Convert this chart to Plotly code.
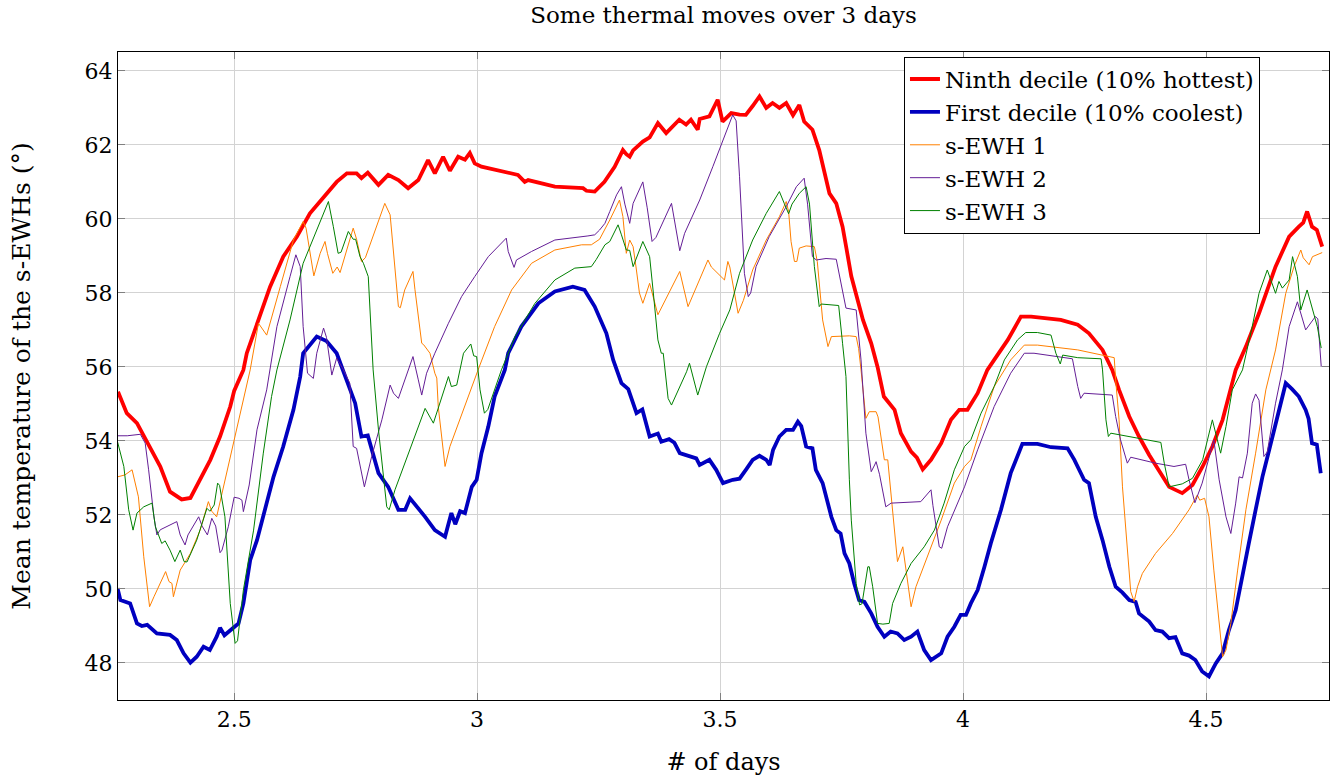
import plotly.graph_objects as go

# ---------------- data ----------------
ninth_x = [2.261,2.279,2.300,2.320,2.348,2.368,2.392,2.410,2.430,2.451,2.471,2.492,2.500,2.519,2.526,2.547,2.574,2.601,2.629,2.656,2.684,2.711,2.732,2.752,2.762,2.775,2.797,2.817,2.838,2.858,2.879,2.899,2.913,2.930,2.944,2.961,2.975,2.985,2.995,3.009,3.084,3.098,3.105,3.160,3.218,3.225,3.242,3.262,3.283,3.300,3.307,3.314,3.321,3.341,3.355,3.372,3.389,3.416,3.430,3.440,3.454,3.458,3.478,3.495,3.505,3.523,3.540,3.553,3.567,3.581,3.595,3.608,3.622,3.636,3.650,3.663,3.673,3.690,3.704,3.725,3.739,3.752,3.760,3.770,3.794,3.811,3.824,3.837,3.859,3.872,3.893,3.905,3.917,3.934,3.955,3.975,3.992,4.009,4.030,4.050,4.064,4.092,4.119,4.140,4.201,4.236,4.259,4.287,4.307,4.321,4.342,4.362,4.383,4.403,4.424,4.451,4.472,4.493,4.513,4.534,4.547,4.561,4.582,4.609,4.643,4.671,4.691,4.700,4.708,4.718,4.728,4.739]
ninth_y = [55.33,54.75,54.48,53.98,53.31,52.63,52.42,52.46,52.95,53.49,54.12,54.93,55.35,55.92,56.37,57.18,58.17,58.98,59.52,60.15,60.60,61.00,61.23,61.23,61.10,61.25,60.92,61.19,61.05,60.83,61.05,61.59,61.23,61.68,61.30,61.68,61.60,61.78,61.50,61.41,61.19,61.00,61.05,60.87,60.83,60.76,60.74,61.00,61.41,61.86,61.75,61.68,61.85,62.09,62.20,62.59,62.32,62.68,62.55,62.68,62.41,62.70,62.77,63.22,62.63,62.86,62.82,62.81,63.05,63.31,63.00,63.13,63.00,63.13,62.80,63.08,62.63,62.41,61.86,60.69,60.42,59.79,59.20,58.45,57.27,56.64,56.00,55.20,54.84,54.21,53.71,53.55,53.23,53.49,53.94,54.57,54.84,54.84,55.29,55.92,56.19,56.73,57.36,57.36,57.27,57.14,56.91,56.46,55.92,55.38,54.66,54.12,53.62,53.22,52.76,52.59,52.81,53.31,53.85,54.57,55.20,55.92,56.55,57.45,58.71,59.52,59.79,59.90,60.20,59.79,59.70,59.25]

first_x = [2.260,2.266,2.286,2.300,2.310,2.321,2.341,2.368,2.382,2.396,2.410,2.423,2.437,2.450,2.464,2.471,2.480,2.499,2.509,2.519,2.533,2.547,2.567,2.581,2.601,2.622,2.636,2.642,2.670,2.690,2.711,2.732,2.749,2.762,2.775,2.797,2.817,2.838,2.852,2.862,2.875,2.893,2.913,2.934,2.947,2.955,2.965,2.975,2.989,2.999,3.009,3.023,3.036,3.057,3.064,3.091,3.126,3.160,3.197,3.221,3.242,3.256,3.266,3.280,3.297,3.311,3.328,3.340,3.355,3.372,3.379,3.395,3.406,3.417,3.430,3.451,3.458,3.478,3.492,3.506,3.526,3.540,3.553,3.567,3.581,3.595,3.602,3.609,3.622,3.636,3.650,3.660,3.667,3.677,3.690,3.697,3.711,3.718,3.729,3.739,3.748,3.756,3.766,3.776,3.786,3.797,3.811,3.824,3.838,3.851,3.865,3.879,3.893,3.906,3.920,3.934,3.955,3.968,3.982,3.995,4.006,4.016,4.030,4.044,4.057,4.078,4.098,4.122,4.153,4.181,4.215,4.229,4.249,4.259,4.273,4.287,4.301,4.314,4.328,4.342,4.355,4.362,4.383,4.396,4.410,4.424,4.437,4.451,4.465,4.478,4.492,4.506,4.520,4.534,4.547,4.561,4.575,4.588,4.602,4.616,4.630,4.643,4.654,4.664,4.677,4.691,4.705,4.711,4.718,4.728,4.736]
first_y = [50.02,49.70,49.61,49.07,49.00,49.03,48.80,48.76,48.62,48.26,48.01,48.17,48.44,48.35,48.71,48.95,48.75,48.98,49.07,49.61,50.78,51.32,52.31,53.03,53.85,54.84,55.74,56.37,56.82,56.70,56.37,55.65,55.02,54.12,54.15,53.13,52.76,52.14,52.14,52.45,52.25,51.95,51.59,51.41,52.05,51.75,52.10,52.05,52.76,52.95,53.67,54.39,55.20,55.92,56.37,57.09,57.72,58.04,58.17,58.08,57.63,57.18,56.91,56.19,55.56,55.40,54.75,54.85,54.12,54.20,53.98,54.05,53.95,53.67,53.62,53.53,53.35,53.49,53.22,52.86,52.95,52.98,53.22,53.49,53.60,53.49,53.35,53.76,54.12,54.30,54.30,54.52,54.40,53.85,53.80,53.22,52.86,52.49,51.95,51.59,51.50,50.96,50.69,50.15,49.70,49.65,49.34,48.98,48.71,48.85,48.80,48.62,48.71,48.85,48.35,48.08,48.26,48.71,48.98,49.30,49.30,49.61,49.97,50.60,51.23,52.14,53.13,53.92,53.92,53.83,53.80,53.49,52.95,52.86,51.95,51.32,50.60,50.06,49.90,49.70,49.65,49.34,49.12,48.89,48.85,48.67,48.70,48.26,48.20,48.08,47.77,47.64,47.99,48.26,48.89,49.43,50.42,51.23,52.14,53.03,53.76,54.48,55.11,55.56,55.40,55.20,54.84,54.60,53.94,53.90,53.13]

ewh1_x = [2.260,2.275,2.290,2.297,2.303,2.314,2.326,2.335,2.359,2.366,2.372,2.375,2.382,2.389,2.410,2.430,2.447,2.454,2.464,2.481,2.499,2.516,2.533,2.550,2.567,2.595,2.622,2.642,2.648,2.664,2.677,2.687,2.692,2.703,2.712,2.718,2.738,2.745,2.752,2.762,2.770,2.810,2.821,2.825,2.838,2.842,2.851,2.868,2.872,2.886,2.890,2.903,2.913,2.917,2.920,2.934,2.944,3.002,3.036,3.071,3.112,3.160,3.215,3.235,3.252,3.273,3.293,3.300,3.307,3.314,3.321,3.327,3.334,3.341,3.348,3.355,3.372,3.417,3.434,3.475,3.482,3.509,3.516,3.520,3.537,3.548,3.567,3.595,3.622,3.636,3.641,3.646,3.653,3.658,3.663,3.677,3.694,3.700,3.711,3.722,3.729,3.766,3.780,3.785,3.790,3.800,3.807,3.821,3.825,3.838,3.845,3.852,3.865,3.876,3.883,3.893,3.903,3.927,3.955,3.982,4.003,4.016,4.037,4.064,4.085,4.098,4.126,4.153,4.236,4.270,4.311,4.314,4.321,4.328,4.338,4.345,4.352,4.359,4.369,4.396,4.431,4.465,4.482,4.487,4.497,4.506,4.516,4.530,4.534,4.541,4.551,4.565,4.582,4.602,4.623,4.643,4.664,4.681,4.695,4.700,4.712,4.719,4.739]
ewh1_y = [53.03,53.08,53.22,52.86,52.49,50.87,49.52,49.79,50.47,50.20,50.15,49.79,50.15,50.51,50.96,51.59,52.36,52.10,51.95,52.95,53.94,54.93,55.92,57.18,56.86,58.17,59.43,59.93,59.75,58.46,59.07,59.39,59.07,58.53,58.70,58.55,59.49,59.75,59.45,58.85,58.95,60.42,60.11,59.50,57.63,57.60,58.08,58.58,58.10,56.64,56.60,56.37,55.83,55.70,54.93,53.31,53.85,55.92,57.09,58.08,58.80,59.16,59.30,59.30,59.45,59.97,60.51,60.06,59.07,59.43,59.25,58.70,58.00,57.72,58.00,58.26,57.41,58.58,57.63,58.89,58.70,58.35,58.85,58.70,57.45,57.80,58.62,59.43,60.06,60.47,60.20,59.39,58.85,58.85,59.21,59.27,59.25,58.85,57.27,56.55,56.82,56.84,56.82,56.50,55.92,54.61,54.79,54.79,54.65,53.49,53.49,52.49,50.74,51.14,50.51,49.52,50.06,50.87,51.86,52.86,53.31,53.49,54.39,55.47,55.92,56.19,56.59,56.59,56.46,56.37,56.25,55.65,54.57,52.76,50.96,49.93,49.66,50.06,50.42,50.96,51.50,52.14,52.54,52.40,52.45,51.95,50.51,48.53,48.17,48.35,49.07,50.51,52.14,53.67,55.38,56.46,57.99,58.71,59.16,58.95,58.76,58.98,59.09]

ewh2_x = [2.260,2.280,2.307,2.317,2.324,2.335,2.341,2.348,2.382,2.389,2.399,2.405,2.427,2.434,2.445,2.454,2.462,2.471,2.475,2.488,2.500,2.510,2.516,2.519,2.531,2.547,2.567,2.588,2.615,2.627,2.636,2.642,2.651,2.663,2.670,2.684,2.690,2.701,2.711,2.725,2.738,2.745,2.752,2.759,2.768,2.783,2.804,2.821,2.828,2.838,2.858,2.868,2.879,2.886,2.896,2.913,2.941,2.968,2.995,3.023,3.060,3.064,3.076,3.081,3.112,3.160,3.228,3.242,3.252,3.263,3.273,3.287,3.297,3.304,3.314,3.321,3.341,3.350,3.360,3.368,3.400,3.407,3.417,3.427,3.458,3.485,3.512,3.526,3.533,3.540,3.550,3.558,3.563,3.574,3.601,3.636,3.657,3.673,3.680,3.690,3.698,3.718,3.739,3.748,3.759,3.780,3.790,3.800,3.811,3.818,3.821,3.828,3.841,3.852,3.913,3.934,3.938,3.951,3.956,3.968,4.003,4.030,4.064,4.098,4.126,4.146,4.225,4.236,4.242,4.249,4.270,4.307,4.314,4.324,4.338,4.345,4.396,4.434,4.458,4.465,4.477,4.492,4.516,4.527,4.541,4.551,4.561,4.568,4.575,4.585,4.595,4.602,4.609,4.619,4.626,4.643,4.657,4.671,4.688,4.705,4.725,4.730,4.737]
ewh2_y = [54.14,54.14,54.18,53.94,53.22,51.95,51.46,51.60,51.82,51.46,51.19,51.46,51.95,51.70,51.46,51.91,51.70,50.98,51.05,51.68,52.48,52.45,52.40,52.09,52.81,54.30,55.38,57.09,58.44,59.03,58.71,57.09,55.83,55.69,56.37,57.05,56.80,55.78,56.24,55.92,55.56,53.85,53.80,53.31,52.76,53.58,54.57,55.51,55.29,55.15,55.92,56.28,55.65,55.24,55.83,56.37,57.18,57.90,58.44,58.98,59.48,59.12,58.69,58.89,59.12,59.43,59.54,59.57,59.70,59.88,60.20,60.65,60.87,60.40,59.88,60.42,61.00,60.30,59.39,59.50,60.42,59.90,59.14,59.61,60.51,61.41,62.32,62.81,62.65,61.14,58.53,57.90,58.00,58.71,59.52,60.33,60.87,61.10,60.40,58.98,58.89,58.93,58.91,58.30,57.59,57.54,56.19,54.21,53.17,53.35,53.44,53.10,52.22,52.32,52.36,52.68,52.25,51.14,51.10,51.68,52.76,53.76,54.93,55.83,56.37,56.37,56.22,55.47,55.15,55.29,55.27,55.24,54.66,54.03,53.40,53.56,53.40,53.31,53.37,52.95,52.33,52.86,54.03,52.95,51.95,51.50,52.32,53.03,53.00,53.67,55.02,55.27,55.10,53.58,53.70,55.02,55.92,57.09,57.76,57.00,57.36,57.30,56.01]

ewh3_x = [2.260,2.273,2.283,2.292,2.300,2.314,2.331,2.338,2.351,2.358,2.368,2.378,2.389,2.397,2.403,2.423,2.444,2.450,2.459,2.466,2.470,2.481,2.492,2.502,2.507,2.519,2.540,2.560,2.577,2.588,2.615,2.642,2.670,2.694,2.704,2.714,2.720,2.735,2.745,2.750,2.759,2.766,2.776,2.786,2.797,2.814,2.819,2.831,2.893,2.910,2.941,2.947,2.958,2.972,2.987,2.993,2.999,3.006,3.015,3.022,3.050,3.078,3.119,3.160,3.201,3.235,3.245,3.263,3.273,3.290,3.297,3.307,3.314,3.321,3.341,3.355,3.362,3.372,3.379,3.383,3.393,3.400,3.431,3.437,3.454,3.472,3.499,3.520,3.540,3.567,3.595,3.622,3.632,3.641,3.648,3.663,3.677,3.684,3.694,3.704,3.708,3.725,3.744,3.752,3.759,3.766,3.770,3.780,3.787,3.792,3.804,3.807,3.814,3.824,3.835,3.848,3.855,3.872,3.893,3.920,3.941,3.961,3.982,4.003,4.016,4.037,4.064,4.085,4.112,4.129,4.153,4.181,4.191,4.200,4.205,4.236,4.270,4.284,4.287,4.294,4.299,4.304,4.407,4.414,4.424,4.451,4.472,4.493,4.513,4.520,4.530,4.541,4.554,4.568,4.575,4.595,4.609,4.626,4.643,4.650,4.657,4.671,4.678,4.688,4.695,4.708,4.718,4.729,4.737]
ewh3_y = [53.98,53.31,52.14,51.59,52.05,52.22,52.32,51.68,51.23,51.30,51.05,50.74,51.05,50.74,50.73,51.32,52.18,52.10,52.27,52.86,52.80,51.95,49.61,48.53,48.60,49.97,51.59,53.67,55.20,55.92,57.27,58.80,59.70,60.47,59.80,59.07,59.10,59.66,59.45,59.45,58.98,58.80,58.44,55.92,54.30,52.22,52.14,52.68,54.88,54.48,55.74,55.47,55.51,56.37,56.62,56.30,56.28,55.38,54.75,54.85,55.92,56.82,57.72,58.35,58.67,58.71,58.90,59.30,59.39,59.84,59.57,59.16,59.15,58.71,59.39,58.98,58.08,56.73,56.37,56.37,55.15,54.97,55.87,56.10,55.24,56.01,56.91,57.54,58.53,59.43,60.15,60.74,60.42,60.14,60.40,60.69,60.87,60.40,58.71,57.63,57.70,57.68,57.66,56.64,55.74,52.95,51.86,50.15,49.57,49.60,50.60,50.60,50.06,49.07,49.05,49.07,49.61,50.15,50.69,51.14,51.59,52.32,53.22,53.85,54.03,54.75,55.47,56.19,56.73,56.93,56.93,56.86,56.37,56.08,56.32,56.25,56.23,56.22,55.92,54.57,54.12,54.21,53.96,53.40,52.76,52.84,52.99,53.49,54.57,54.21,53.67,54.39,55.38,55.74,55.92,57.09,57.99,58.62,57.99,58.31,58.13,58.35,58.98,58.44,57.54,58.08,57.63,57.09,56.51]

series_names = ["Ninth decile (10% hottest)", "First decile (10% coolest)", "s-EWH 1", "s-EWH 2", "s-EWH 3"]
x_ticks = [2.5, 3, 3.5, 4, 4.5]
x_ticklabels = ["2.5", "3", "3.5", "4", "4.5"]
y_ticks = [48, 50, 52, 54, 56, 58, 60, 62, 64]
y_ticklabels = ["48", "50", "52", "54", "56", "58", "60", "62", "64"]

# ---------------- figure ----------------
FONT = "DejaVu Serif"
TXT = 23
styles = [
    dict(color="#ff0000", width=3.8),
    dict(color="#0000bf", width=3.8),
    dict(color="#ff8000", width=1.0),
    dict(color="#641e96", width=1.0),
    dict(color="#008000", width=1.0),
]
xs = [ninth_x, first_x, ewh1_x, ewh2_x, ewh3_x]
ys = [ninth_y, first_y, ewh1_y, ewh2_y, ewh3_y]

fig = go.Figure()
for name, x, y, st in zip(series_names, xs, ys, styles):
    fig.add_trace(go.Scatter(x=x, y=y, mode="lines", name=name, line=st))

axis_common = dict(
    showline=True, linecolor="black", linewidth=1, mirror="allticks",
    ticks="inside", ticklen=7, tickcolor="#808080", tickwidth=1,
    showgrid=True, gridcolor="#d3d3d3", gridwidth=1, zeroline=False,
    automargin=False,
    tickfont=dict(family=FONT, size=22, color="black"),
)

fig.update_layout(
    width=1341, height=777,
    margin=dict(l=118, r=12, t=52, b=77),
    paper_bgcolor="white", plot_bgcolor="white",
    font=dict(family=FONT, size=TXT, color="black"),
    title=dict(text="Some thermal moves over 3 days", x=0.5, xref="paper",
               y=1 - 15 / 777, yref="container", yanchor="middle",
               font=dict(family=FONT, size=TXT, color="black")),
    xaxis=dict(range=[2.261, 4.753], tickvals=x_ticks, ticktext=x_ticklabels,
               title=dict(text="# of days", standoff=21,
                          font=dict(family=FONT, size=24)),
               **axis_common),
    yaxis=dict(range=[47.0, 64.51], tickvals=y_ticks, ticktext=y_ticklabels,
               title=dict(text="Mean temperature of the s-EWHs (°)", standoff=46,
                          font=dict(family=FONT, size=25)),
               **axis_common),
    legend=dict(x=0.943, y=0.993, xanchor="right", yanchor="top",
                bordercolor="black", borderwidth=1, bgcolor="white",
                font=dict(family=FONT, size=TXT), tracegroupgap=0),
    showlegend=True,
)

fig.write_html("out.html", config={"displayModeBar": False},
               post_script="document.body.style.margin='0';")
